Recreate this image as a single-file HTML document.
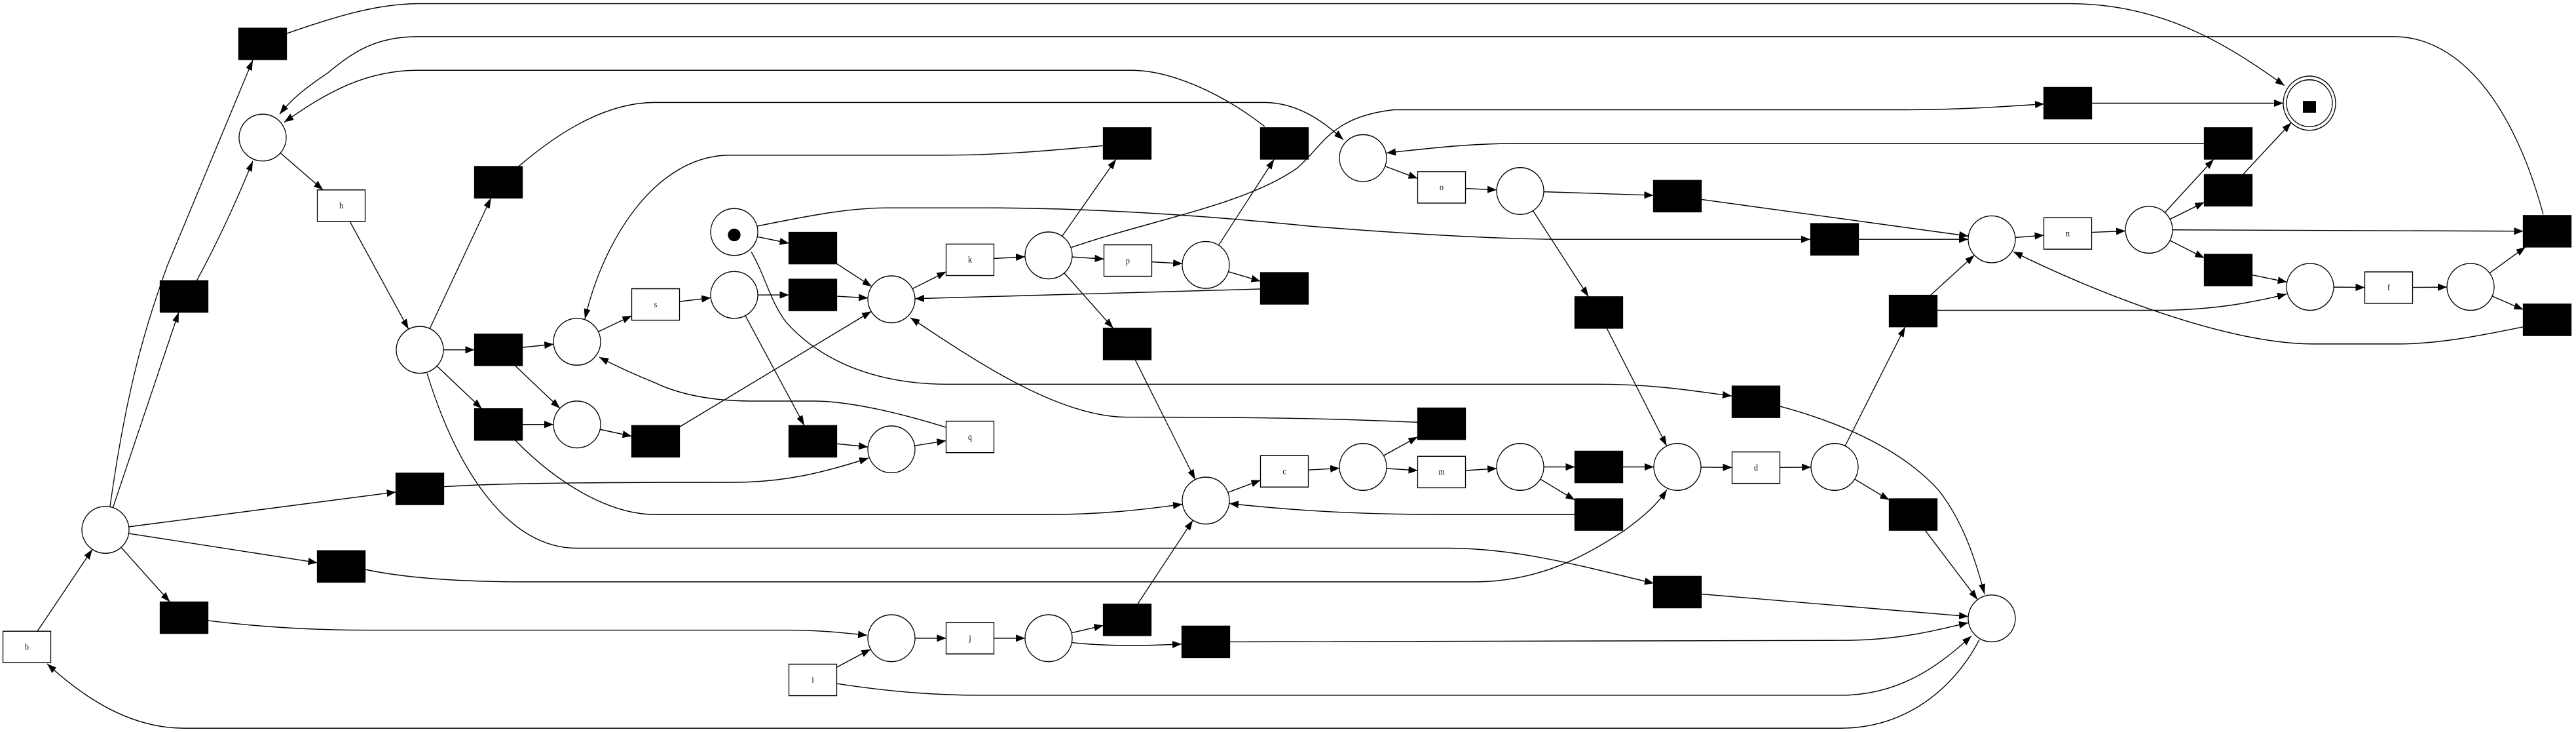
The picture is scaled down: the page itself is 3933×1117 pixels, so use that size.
<!DOCTYPE html>
<html><head><meta charset="utf-8"><style>
html,body{margin:0;padding:0;background:#fff;}
svg{display:block;}
text{font-family:"Liberation Serif",serif;font-size:12px;text-anchor:middle;dominant-baseline:central;fill:#000;}
</style></head><body>
<svg id="g" width="3933" height="1117" viewBox="0 0 3933 1117" xmlns="http://www.w3.org/2000/svg">
<defs><marker id="a" markerUnits="userSpaceOnUse" markerWidth="14" markerHeight="10" refX="14" refY="5" orient="auto"><path d="M0,0 L14,5 L0,10 z" fill="#000"/></marker></defs>
<g transform="scale(1,1.1168)">
<g id="edges" fill="none" stroke="#000" stroke-width="1.3">
<path marker-end="url(#a)" d="M168,692 C195,520 225,440 255,364 L386,82"/>
<path marker-end="url(#a)" d="M300,384 Q345,310 386,220"/>
<path marker-end="url(#a)" d="M437,46 C520,20 580,5 640,5 L3160,5 C3300,5 3400,60 3488,117"/>
<path marker-end="url(#a)" d="M3883,293 C3840,150 3760,50 3654,50 L638,50 C575,50 540,70 500,100 C470,118 445,135 427,156"/>
<path marker-end="url(#a)" d="M1931,173 C1870,130 1790,96 1727,96 L638,96 C560,96 500,125 434,167"/>
<path marker-end="url(#a)" d="M791,228 C860,175 930,140 1000,140 L1930,140 C1980,140 2020,165 2051,191"/>
<path marker-end="url(#a)" d="M1636,338 C1760,300 1900,280 1980,230 C2020,200 2030,160 2128,150 L2900,150 C3000,150 3070,145 3121,142"/>
<path marker-end="url(#a)" d="M1445,584 C1380,566 1300,548 1242,548 L1150,548 C1090,548 1040,540 1000,523 C970,512 940,500 915,488"/>
<path marker-end="url(#a)" d="M786,601 C850,660 930,703 1000,703 L1600,703 C1680,703 1740,697 1805,689"/>
<path marker-end="url(#a)" d="M652,510 C700,650 780,749 880,749 L2210,749 C2320,749 2420,775 2525,797"/>
<path marker-end="url(#a)" d="M677,665 C750,661 850,659 1120,659 C1200,659 1260,645 1326,626"/>
<path marker-end="url(#a)" d="M557,778 C620,790 700,795 800,795 L2250,795 C2350,795 2420,760 2480,725 C2510,705 2530,690 2545,669"/>
<path marker-end="url(#a)" d="M318,848 C400,857 480,861 560,861 L1200,861 C1260,861 1300,866 1324,868"/>
<path marker-end="url(#a)" d="M3022,874 C2990,930 2920,995 2810,995 L281,995 C200,995 130,955 72,907"/>
<path marker-end="url(#a)" d="M1156,309 C1250,292 1300,284 1357,284 L1500,284 C1700,284 1900,300 2000,309 C2150,320 2300,327 2383,327 L2764,327"/>
<path marker-end="url(#a)" d="M1147,344 C1170,380 1175,410 1200,440 C1260,500 1350,525 1446,525 L2440,525 C2530,525 2590,535 2644,541"/>
<path marker-end="url(#a)" d="M1685,199 C1600,206 1520,212 1446,212 L1115,212 C1000,212 920,330 893,436"/>
<path marker-end="url(#a)" d="M2165,577 C2080,574 2000,570 1721,570 C1620,570 1500,500 1390,434"/>
<path marker-end="url(#a)" d="M2405,703 L2200,703 C2050,703 1950,695 1877,688"/>
<path marker-end="url(#a)" d="M2957,424 L3290,424 C3380,424 3440,413 3491,402"/>
<path marker-end="url(#a)" d="M3856,446 C3780,460 3720,470 3660,470 L3532,470 C3400,470 3200,400 3074,344"/>
<path marker-end="url(#a)" d="M3366,196 L2320,196 C2240,196 2180,203 2117,209"/>
<path marker-end="url(#a)" d="M1877,877 L2810,875 C2900,875 2950,862 3005,851"/>
<path marker-end="url(#a)" d="M1277,934 C1350,944 1420,950 1497,950 L2810,950 C2900,950 2960,910 3010,869"/>
<path marker-end="url(#a)" d="M2717,555 C2800,575 2900,610 2960,670 C2995,710 3015,760 3030,812"/>
<path marker-end="url(#a)" d="M1636,878 C1700,884 1760,882 1804,880"/>
</g>
<g id="nodes" stroke="#000" stroke-width="1.3">
<ellipse cx="161" cy="724" rx="36" ry="32" fill="#fff"/>
<ellipse cx="401" cy="188" rx="36" ry="32" fill="#fff"/>
<ellipse cx="641" cy="478" rx="36" ry="32" fill="#fff"/>
<ellipse cx="881" cy="467" rx="36" ry="32" fill="#fff"/>
<ellipse cx="881" cy="580" rx="36" ry="32" fill="#fff"/>
<ellipse cx="1121" cy="317" rx="36" ry="32" fill="#fff"/>
<ellipse cx="1121" cy="321" rx="9" ry="8" fill="#000"/>
<ellipse cx="1121" cy="403" rx="36" ry="32" fill="#fff"/>
<ellipse cx="1361" cy="409" rx="36" ry="32" fill="#fff"/>
<ellipse cx="1361" cy="614" rx="36" ry="32" fill="#fff"/>
<ellipse cx="1601" cy="349" rx="36" ry="32" fill="#fff"/>
<ellipse cx="1841" cy="362" rx="36" ry="32" fill="#fff"/>
<ellipse cx="1841" cy="684" rx="36" ry="32" fill="#fff"/>
<ellipse cx="1361" cy="872" rx="36" ry="32" fill="#fff"/>
<ellipse cx="1601" cy="872" rx="36" ry="32" fill="#fff"/>
<ellipse cx="2081" cy="216" rx="36" ry="32" fill="#fff"/>
<ellipse cx="2321" cy="261" rx="36" ry="32" fill="#fff"/>
<ellipse cx="2081" cy="638" rx="36" ry="32" fill="#fff"/>
<ellipse cx="2321" cy="638" rx="36" ry="32" fill="#fff"/>
<ellipse cx="2561" cy="638" rx="36" ry="32" fill="#fff"/>
<ellipse cx="2801" cy="638" rx="36" ry="32" fill="#fff"/>
<ellipse cx="3041" cy="327" rx="36" ry="32" fill="#fff"/>
<ellipse cx="3281" cy="314" rx="36" ry="32" fill="#fff"/>
<ellipse cx="3527" cy="392" rx="36" ry="32" fill="#fff"/>
<ellipse cx="3772" cy="392" rx="36" ry="32" fill="#fff"/>
<ellipse cx="3041" cy="845" rx="36" ry="32" fill="#fff"/>
<ellipse cx="3526" cy="141" rx="40" ry="37" fill="#fff"/>
<ellipse cx="3526" cy="141" rx="35" ry="32" fill="none"/>
<rect x="3516" y="138" width="20" height="16" fill="#000" stroke="none"/>
</g>
<g id="trans" stroke="#000" stroke-width="1.3"></g>
<g id="labels">
<text x="521" y="281">h</text>
<text x="41" y="884">b</text>
<text x="1001" y="416">s</text>
<text x="1481" y="355">k</text>
<text x="1722" y="356">p</text>
<text x="1481" y="597">q</text>
<text x="1961" y="644">c</text>
<text x="1481" y="872">j</text>
<text x="1241" y="929">i</text>
<text x="2201" y="256">o</text>
<text x="2201" y="645">m</text>
<text x="2681" y="639">d</text>
<text x="3157" y="319">n</text>
<text x="3647" y="393">f</text>
</g>
</g>
</svg>
<script>
(function(){
var NS="http://www.w3.org/2000/svg";
var N={
P1:['p',161,724],P2:['p',401,188],P3:['p',641,478],P4:['p',881,467],P5:['p',881,580],P6:['p',1121,317],P7:['p',1121,403],P8:['p',1361,409],P9:['p',1361,614],P10:['p',1601,349],P11:['p',1841,362],P14:['p',1841,684],P24:['p',1361,872],P25:['p',1601,872],P12:['p',2081,216],P13:['p',2321,261],P15:['p',2081,638],P16:['p',2321,638],P17:['p',2561,638],P18:['p',2801,638],P19:['p',3041,327],P20:['p',3281,314],P22:['p',3527,392],P23:['p',3772,392],P21:['p',3041,845],End:['e',3526,141],
h:['l',521,281],b:['l',41,884],s:['l',1001,416],k:['l',1481,355],p:['l',1722,356],q:['l',1481,597],c:['l',1961,644],j:['l',1481,872],i:['l',1241,929],o:['l',2201,256],m:['l',2201,645],d:['l',2681,639],n:['l',3157,319],f:['l',3647,393],
T1:['t',401,60],T2:['t',281,405],T3:['t',761,249],T4:['t',761,478],T5:['t',761,580],T6:['t',1001,603],T7:['t',641,668],T8:['t',521,774],T9:['t',281,844],T10:['t',1241,339],T11:['t',1241,403],T12:['t',1721,196],T13:['t',1961,196],T14:['t',1961,394],T15:['t',1721,470],T16:['t',1241,603],T17:['t',1721,847],T18:['t',1841,877],T19:['t',2561,268],T20:['t',2801,327],T21:['t',2441,427],T22:['t',2921,425],T23:['t',2681,549],T24:['t',2201,579],T25:['t',2441,638],T26:['t',2441,703],T27:['t',2921,703],T28:['t',2561,809],T29:['t',3157,141],T30:['t',3402,196],T31:['t',3402,260],T32:['t',3889,316],T33:['t',3402,369],T34:['t',3889,437]
};
var tg=document.getElementById('trans');
for(var key in N){var v=N[key];if(v[0]=='t'||v[0]=='l'){var r=document.createElementNS(NS,'rect');r.setAttribute('x',v[1]-36.5);r.setAttribute('y',v[2]-21.5);r.setAttribute('width',73);r.setAttribute('height',43);r.setAttribute('fill',v[0]=='t'?'#000':'#fff');tg.appendChild(r);}}
function clip(a,bx,by){var dx=bx-a[1],dy=by-a[2];var t;
if(a[0]=='p'){t=1/Math.sqrt((dx/36)*(dx/36)+(dy/32)*(dy/32));}
else if(a[0]=='e'){t=1/Math.sqrt((dx/40)*(dx/40)+(dy/37)*(dy/37));}
else{t=Math.min(dx?36.5/Math.abs(dx):1e9,dy?21.5/Math.abs(dy):1e9);}
return [a[1]+dx*t,a[2]+dy*t];}
var E="b-P1 P1-T2 P1-T7 P1-T8 P1-T9 P2-h h-P3 P3-T3 P3-T4 P3-T5 T4-P4 T4-P5 T5-P5 P5-T6 T6-P8 P4-s s-P7 P7-T11 T11-P8 P7-T16 T16-P9 P9-q P6-T10 T10-P8 P8-k k-P10 P10-p p-P11 P10-T12 P10-T15 T15-P14 P11-T13 P11-T14 T14-P8 P14-c c-P15 P15-T24 P15-m m-P16 P16-T25 P16-T26 T25-P17 P17-d d-P18 P18-T22 P18-T27 T27-P21 P12-o o-P13 P13-T19 T19-P19 P13-T21 T21-P17 T20-P19 T22-P19 P19-n n-P20 P20-T30 P20-T31 P20-T32 P20-T33 T33-P22 P22-f f-P23 P23-T32 P23-T34 T31-End T29-End i-P24 P24-j j-P25 P25-T17 T17-P14 T28-P21".split(' ');
var eg=document.getElementById('edges');
E.forEach(function(s){var q=s.split('-');var A=N[q[0]],B=N[q[1]];var p1=clip(A,B[1],B[2]),p2=clip(B,A[1],A[2]);
var l=document.createElementNS(NS,'path');l.setAttribute('d','M'+p1[0].toFixed(1)+','+p1[1].toFixed(1)+' L'+p2[0].toFixed(1)+','+p2[1].toFixed(1));l.setAttribute('marker-end','url(#a)');eg.appendChild(l);});
})();
</script>
</body></html>
